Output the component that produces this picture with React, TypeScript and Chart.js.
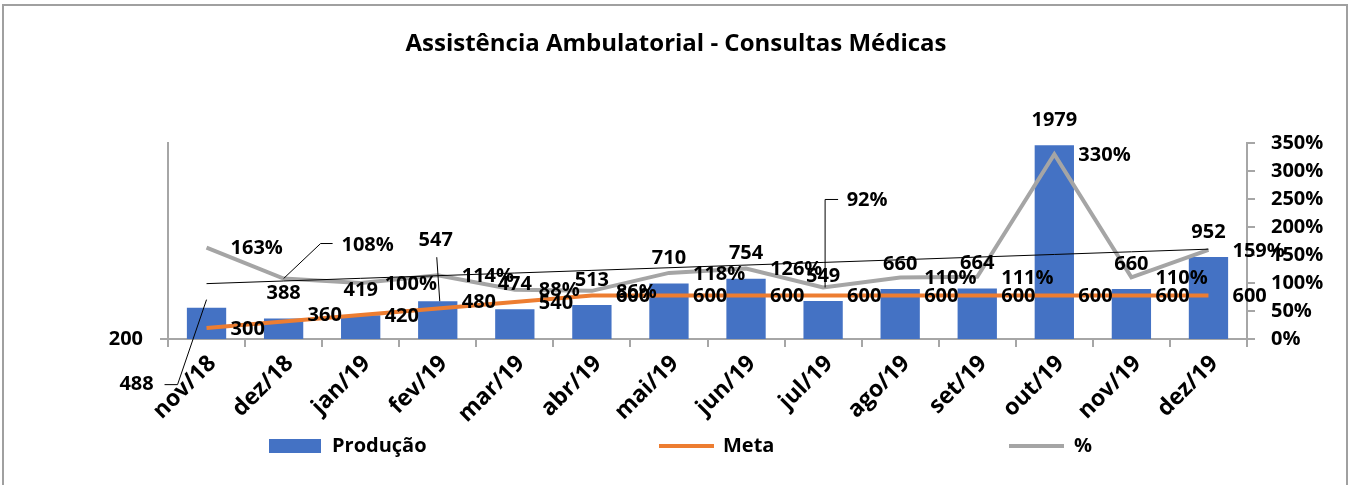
import React, { useEffect, useRef } from "react";
import { Chart, registerables } from "chart.js";

Chart.register(...registerables);

// ---------- data ----------
const categories = [
  "nov/18", "dez/18", "jan/19", "fev/19", "mar/19", "abr/19", "mai/19",
  "jun/19", "jul/19", "ago/19", "set/19", "out/19", "nov/19", "dez/19",
];
const producao = [488, 388, 419, 547, 474, 513, 710, 754, 549, 660, 664, 1979, 660, 952];
const meta = [300, 360, 420, 480, 540, 600, 600, 600, 600, 600, 600, 600, 600, 600];
const percentual = [163, 108, 100, 114, 88, 86, 118, 126, 92, 110, 111, 330, 110, 159];
const leftTickValues = [200];
const rightTickValues = [0, 50, 100, 150, 200, 250, 300, 350];
const title = "Assistência Ambulatorial - Consultas Médicas";
const legendNames = ["Produção", "Meta", "%"];

// linear trendline of the % series (least squares, as the spreadsheet does)
function linearTrend(values: number[]): number[] {
  const n = values.length;
  const xm = (n - 1) / 2;
  const ym = values.reduce((a, b) => a + b, 0) / n;
  let sxy = 0, sxx = 0;
  values.forEach((v, i) => { sxy += (i - xm) * (v - ym); sxx += (i - xm) * (i - xm); });
  const slope = sxy / sxx;
  return values.map((_, i) => ym + slope * (i - xm));
}

// ---------- styling ----------
const BLUE = "#4472C4";
const ORANGE = "#ED7D31";
const GREY = "#A5A5A5";
const AXIS = "#A6A6A6";
const FONT_FAMILY = "'Open Sans', 'Noto Sans', sans-serif";
const LABEL_FONT = `bold 20px ${FONT_FAMILY}`;

// label placement overrides (offsets from the mark, in px) — layout only
type Place = { dx: number; dy: number; leader?: [number, number][] };
const barLabelPlace: Record<number, Place> = {
  0: { dx: -70, dy: 77, leader: [[0, -8], [-29, 77], [-42, 77]] },
  3: { dx: -2, dy: -61, leader: [[2, 0], [-1, -44]] },
};
const pctLabelPlace: Record<number, Place> = {
  1: { dx: 84, dy: -33, leader: [[0, 0], [37, -35], [49, -35]] },
  8: { dx: 44, dy: -87, leader: [[2, 0], [2, -88], [15, -88]] },
};
const metaLabelDy: Record<number, number> = { 1: -6, 3: -6 };

const framePlugin = {
  id: "frame",
  beforeDraw(chart: any) {
    const { ctx, width, height } = chart;
    ctx.save();
    ctx.fillStyle = "#ffffff";
    ctx.fillRect(0, 0, width, height);
    ctx.strokeStyle = "#A0A0A0";
    ctx.lineWidth = 2;
    ctx.strokeRect(3, 5, 1344, height + 20);
    // title
    ctx.fillStyle = "#000";
    ctx.font = `bold 24px ${FONT_FAMILY}`;
    ctx.textAlign = "center";
    ctx.textBaseline = "middle";
    ctx.fillText(title, 676, 44);
    ctx.restore();
  },
};

const labelsPlugin = {
  id: "customLabels",
  afterDraw(chart: any) {
    const { ctx } = chart;
    ctx.save();
    ctx.font = LABEL_FONT;
    ctx.fillStyle = "#000";
    ctx.strokeStyle = "#000";
    ctx.lineWidth = 1;
    ctx.textBaseline = "middle";

    const drawLeader = (x: number, y: number, pts?: [number, number][]) => {
      if (!pts) return;
      ctx.beginPath();
      pts.forEach(([dx, dy], k) => (k === 0 ? ctx.moveTo(x + dx, y + dy) : ctx.lineTo(x + dx, y + dy)));
      ctx.stroke();
    };

    // Produção labels
    chart.getDatasetMeta(0).data.forEach((el: any, i: number) => {
      const p = barLabelPlace[i];
      ctx.textAlign = "center";
      if (p) {
        drawLeader(el.x, el.y, p.leader);
        ctx.fillText(String(producao[i]), el.x + p.dx, el.y + p.dy);
      } else {
        ctx.fillText(String(producao[i]), el.x, el.y - 25);
      }
    });
    // Meta labels
    chart.getDatasetMeta(1).data.forEach((el: any, i: number) => {
      ctx.textAlign = "left";
      ctx.fillText(String(meta[i]), el.x + 24, el.y + (metaLabelDy[i] ?? 1));
    });
    // % labels
    chart.getDatasetMeta(2).data.forEach((el: any, i: number) => {
      const p = pctLabelPlace[i];
      const txt = `${percentual[i]}%`;
      if (p) {
        drawLeader(el.x, el.y, p.leader);
        ctx.textAlign = "center";
        ctx.fillText(txt, el.x + p.dx, el.y + p.dy);
      } else {
        ctx.textAlign = "left";
        ctx.fillText(txt, el.x + 24, el.y + 1);
      }
    });

    // legend
    const ly = 446;
    ctx.textAlign = "left";
    ctx.fillStyle = BLUE;
    ctx.fillRect(269, 439, 52, 14);
    ctx.lineWidth = 4;
    ctx.lineCap = "butt";
    ctx.strokeStyle = ORANGE;
    ctx.beginPath(); ctx.moveTo(659, ly); ctx.lineTo(714, ly); ctx.stroke();
    ctx.strokeStyle = GREY;
    ctx.beginPath(); ctx.moveTo(1009, ly); ctx.lineTo(1064, ly); ctx.stroke();
    ctx.fillStyle = "#000";
    ctx.fillText(legendNames[0], 332, ly);
    ctx.fillText(legendNames[1], 723, ly);
    ctx.fillText(legendNames[2], 1074, ly);
    ctx.restore();
  },
};

export default function App() {
  const canvasRef = useRef<HTMLCanvasElement | null>(null);

  useEffect(() => {
    if (!canvasRef.current) return;
    const trend = linearTrend(percentual);
    const chart = new Chart(canvasRef.current, {
      type: "bar",
      data: {
        labels: categories,
        datasets: [
          {
            type: "bar",
            label: legendNames[0],
            data: producao,
            backgroundColor: BLUE,
            yAxisID: "y",
            barPercentage: 0.51,
            categoryPercentage: 1,
            order: 4,
          },
          {
            type: "line",
            label: legendNames[1],
            data: meta,
            borderColor: ORANGE,
            borderWidth: 4,
            pointRadius: 0,
            yAxisID: "y",
            order: 3,
          },
          {
            type: "line",
            label: legendNames[2],
            data: percentual,
            borderColor: GREY,
            borderWidth: 4,
            pointRadius: 0,
            yAxisID: "y1",
            order: 2,
          },
          {
            type: "line",
            label: "trend",
            data: trend,
            borderColor: "#000",
            borderWidth: 1,
            pointRadius: 0,
            yAxisID: "y1",
            order: 1,
          },
        ] as any,
      },
      options: {
        animation: false,
        responsive: false,
        layout: { padding: { top: 143, left: 0, right: 0, bottom: 0 } },
        plugins: {
          legend: { display: false },
          title: { display: false },
          tooltip: { enabled: false },
        },
        scales: {
          x: {
            offset: true,
            grid: {
              display: true,
              offset: true,
              drawOnChartArea: false,
              drawTicks: true,
              tickLength: 8,
              color: AXIS,
              lineWidth: 2,
            },
            border: { display: true, color: AXIS, width: 2 },
            ticks: {
              autoSkip: false,
              maxRotation: 45,
              minRotation: 45,
              padding: 3,
              labelOffset: 6,
              color: "#000",
              font: { family: FONT_FAMILY, size: 23, weight: "bold" },
            },
            afterFit: (s: any) => { s.height = 146; },
          },
          y: {
            position: "left",
            min: 200,
            max: 2000,
            grid: {
              display: true,
              drawOnChartArea: false,
              drawTicks: true,
              tickLength: 8,
              color: AXIS,
              lineWidth: 2,
            },
            border: { display: true, color: AXIS, width: 2 },
            ticks: {
              padding: 17,
              color: "#000",
              font: { family: FONT_FAMILY, size: 20, weight: "bold" },
            },
            afterBuildTicks: (s: any) => { s.ticks = leftTickValues.map((v) => ({ value: v })); },
            afterFit: (s: any) => { s.width = 168; },
          },
          y1: {
            position: "right",
            min: 0,
            max: 350,
            grid: {
              display: true,
              drawOnChartArea: false,
              drawTicks: true,
              tickLength: 8,
              color: AXIS,
              lineWidth: 2,
            },
            border: { display: true, color: AXIS, width: 2 },
            ticks: {
              padding: 16,
              color: "#000",
              font: { family: FONT_FAMILY, size: 20, weight: "bold" },
              callback: (v: any) => `${v}%`,
            },
            afterBuildTicks: (s: any) => { s.ticks = rightTickValues.map((v) => ({ value: v })); },
            afterFit: (s: any) => { s.width = 105; },
          },
        },
      } as any,
      plugins: [framePlugin, labelsPlugin],
    });
    (document as any).fonts?.load?.(`bold 20px 'Open Sans'`).then(() => chart.update()).catch(() => {});
    return () => chart.destroy();
  }, []);

  return (
    <canvas
      ref={canvasRef}
      width={1352}
      height={485}
      style={{ position: "fixed", left: 0, top: 0, width: 1352, height: 485 }}
    />
  );
}
